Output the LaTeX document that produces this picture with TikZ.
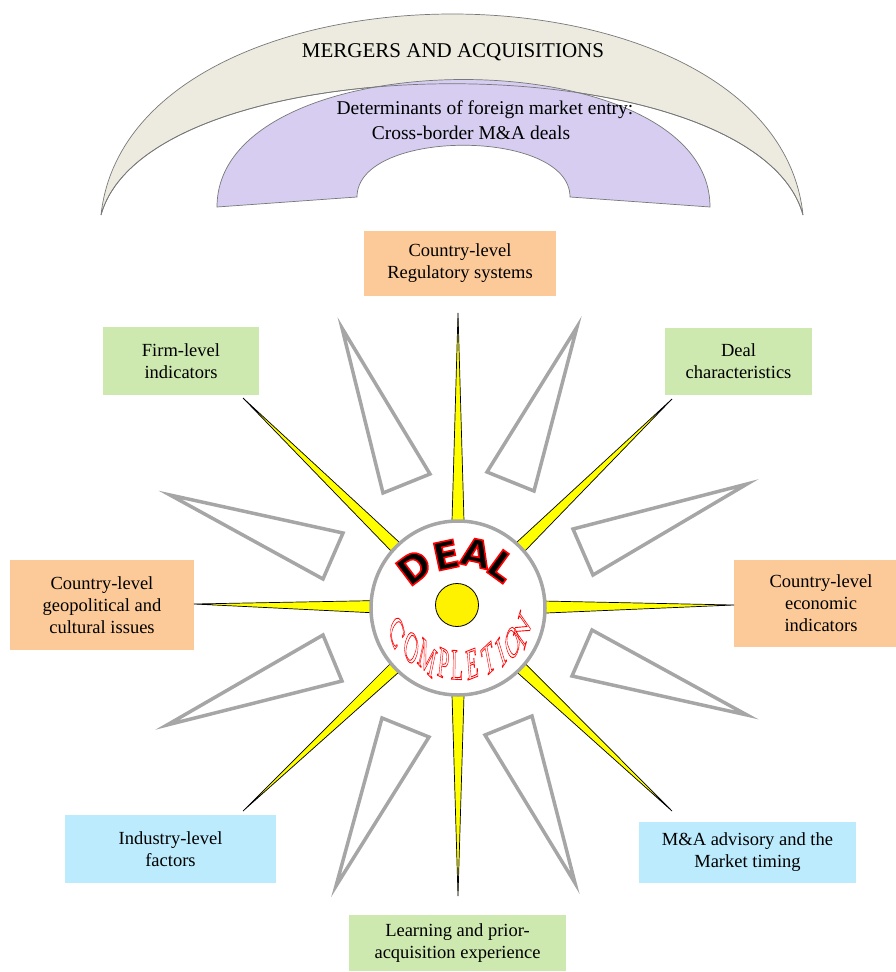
\documentclass[tikz,border=0pt]{standalone}
\usepackage{fontspec}
\setmainfont{Liberation Serif}
\newfontfamily\dealfont{DejaVu Sans}
\usetikzlibrary{calc}
\definecolor{beige}{RGB}{237,235,224}
\definecolor{lav}{RGB}{214,205,241}
\definecolor{boxorange}{RGB}{252,201,152}
\definecolor{boxgreen}{RGB}{205,233,175}
\definecolor{boxblue}{RGB}{187,235,252}
\definecolor{trigray}{RGB}{166,166,166}
\definecolor{archline}{RGB}{120,120,120}
\pgfdeclarehorizontalshading{spk}{100bp}{color(0bp)=(black); color(25bp)=(black!75!yellow); color(31bp)=(yellow); color(100bp)=(yellow)}
\pgfdeclarehorizontalshading{spkd}{100bp}{color(0bp)=(black); color(19bp)=(black!75!yellow); color(24bp)=(yellow); color(100bp)=(yellow)}
\newcommand\dealoutline{\special{pdf:literal direct 1 0 0 RG 1.6 w 2 Tr}}
\newcommand\compoutline{\special{pdf:literal direct 1 0 0 RG 0.9 w 1 Tr}}
\newcommand\spikeray[3]{%
  \path ($(ctr.center)!87pt!(#1)$) coordinate (sb);
  \shadedraw[spikes, shading=#3, shading angle=#2] ($(sb)!6pt!90:(#1)$) -- (#1) -- ($(sb)!6pt!-90:(#1)$) -- cycle;
}
\begin{document}
\begin{tikzpicture}[x=1pt,y=-1pt,
  box/.style={rectangle, inner sep=0pt, align=center, font=\fontsize{18.5}{22}\selectfont},
  tri/.style={draw=trigray, line width=3.5pt, fill=white, line join=miter},
  spikes/.style={draw=black, line width=0.7pt},
  arch/.style={draw=archline, line width=0.7pt},
  dealtxt/.style={font=\dealfont\bfseries\fontsize{38}{38}\selectfont, inner sep=0pt},
  comp/.style={font=\fontsize{44}{44}\selectfont, inner sep=0pt, xscale=0.45}]
\useasboundingbox (0,0) rectangle (896,972);
\clip (0,0) rectangle (896,972);

% arches
\filldraw[arch, fill=beige] (101,215) .. controls (130,-53) and (775,-53) .. (803,215)
   .. controls (755,40) and (150,40) .. (101,215) -- cycle;
\filldraw[arch, fill=lav] (217,207) .. controls (217,37) and (710,37) .. (710,207)
   -- (570,197) .. controls (570,128) and (357,128) .. (357,197) -- cycle;
\draw[arch] (101,215) .. controls (150,40) and (755,40) .. (803,215);
\node[font=\fontsize{21}{24}\selectfont] (title) at (453,52) {MERGERS AND ACQUISITIONS};
\node[font=\fontsize{19.5}{23}\selectfont] (sub1) at (485,110) {Determinants of foreign market entry:};
\node[font=\fontsize{19.5}{23}\selectfont] (sub2) at (471,133) {Cross-border M\&A deals};

% gray triangles
\draw[tri] (342,328) -- (383,493) -- (430,474) -- cycle;
\draw[tri] (577,327) -- (534,491) -- (487,472) -- cycle;
\draw[tri] (170,495) -- (343,533) -- (323,579) -- cycle;
\draw[tri] (167,725) -- (342,681) -- (323,635) -- cycle;
\draw[tri] (747,484) -- (573,529) -- (593,575) -- cycle;
\draw[tri] (747,715) -- (572,676) -- (592,630) -- cycle;
\draw[tri] (336,886) -- (382,718) -- (429,737) -- cycle;
\draw[tri] (575,883) -- (532,716) -- (485,735) -- cycle;

% boxes
\node[box, fill=boxorange, minimum width=192pt, minimum height=65pt] (reg) at (460,263.5) {Country-level\\Regulatory systems};
\node[box, fill=boxgreen, minimum width=156pt, minimum height=68pt] (firm) at (181,361) {Firm-level\\indicators};
\node[box, fill=boxgreen, minimum width=147pt, minimum height=67pt] (dealc) at (738.5,361.5) {Deal\\characteristics};
\node[box, fill=boxorange, minimum width=184pt, minimum height=90pt] (geo) at (102,605) {Country-level\\geopolitical and\\cultural issues};
\node[box, fill=boxorange, minimum width=174pt, minimum height=87pt] (eco) at (821,603.5) {Country-level\\economic\\indicators};
\node[box, fill=boxblue, minimum width=211pt, minimum height=68pt] (ind) at (170.5,849) {Industry-level\\factors};
\node[box, fill=boxblue, minimum width=217pt, minimum height=61pt] (adv) at (747.5,852.5) {M\&A advisory and the\\Market timing};
\node[box, fill=boxgreen, minimum width=217pt, minimum height=56pt] (learn) at (457.5,943) {Learning and prior-\\acquisition experience};

% spike tips
\coordinate (tN) at (458,313);
\coordinate (tNE) at (672,399);
\coordinate (tE) at (734,605);
\coordinate (tSE) at (672,811);
\coordinate (tS) at (458,896);
\coordinate (tSW) at (243,811);
\coordinate (tW) at (194,604);
\coordinate (tNW) at (243,398);

% central circle (named first, drawn after spikes)
\path node[circle, minimum size=174pt, inner sep=0pt] (ctr) at (458,608) {};
\spikeray{tN}{-90}{spk}
\spikeray{tNE}{-135}{spkd}
\spikeray{tE}{180}{spk}
\spikeray{tSE}{135}{spkd}
\spikeray{tS}{90}{spk}
\spikeray{tSW}{45}{spkd}
\spikeray{tW}{0}{spk}
\spikeray{tNW}{-45}{spkd}
\draw[draw=trigray, line width=3.5pt, fill=white] (ctr.center) circle[radius=87pt];
\node[circle, draw=black, line width=0.8pt, fill=yellow, minimum size=43pt, inner sep=0pt] (dot) at (457,605) {};

% DEAL
\node[dealtxt, rotate=37] (dD) at (414,567) {\dealoutline D};
\node[dealtxt, rotate=12] (dE) at (446,555) {\dealoutline E};
\node[dealtxt, rotate=-12] (dA) at (476,553) {\dealoutline A};
\node[dealtxt, rotate=-36] (dL) at (502,566) {\dealoutline L};

% COMPLETION
\coordinate (cc) at (459,590);
\foreach \l/\a [count=\i] in {C/214, O/230.5, M/245, P/258, L/268.5, E/280, T/293, I/304, O/315.5, N/327.5} {
  \node[comp, rotate=\a+90] (cl\i) at ($(cc)+(\a:75pt)$) {\compoutline\l};
}
\end{tikzpicture}
\end{document}
